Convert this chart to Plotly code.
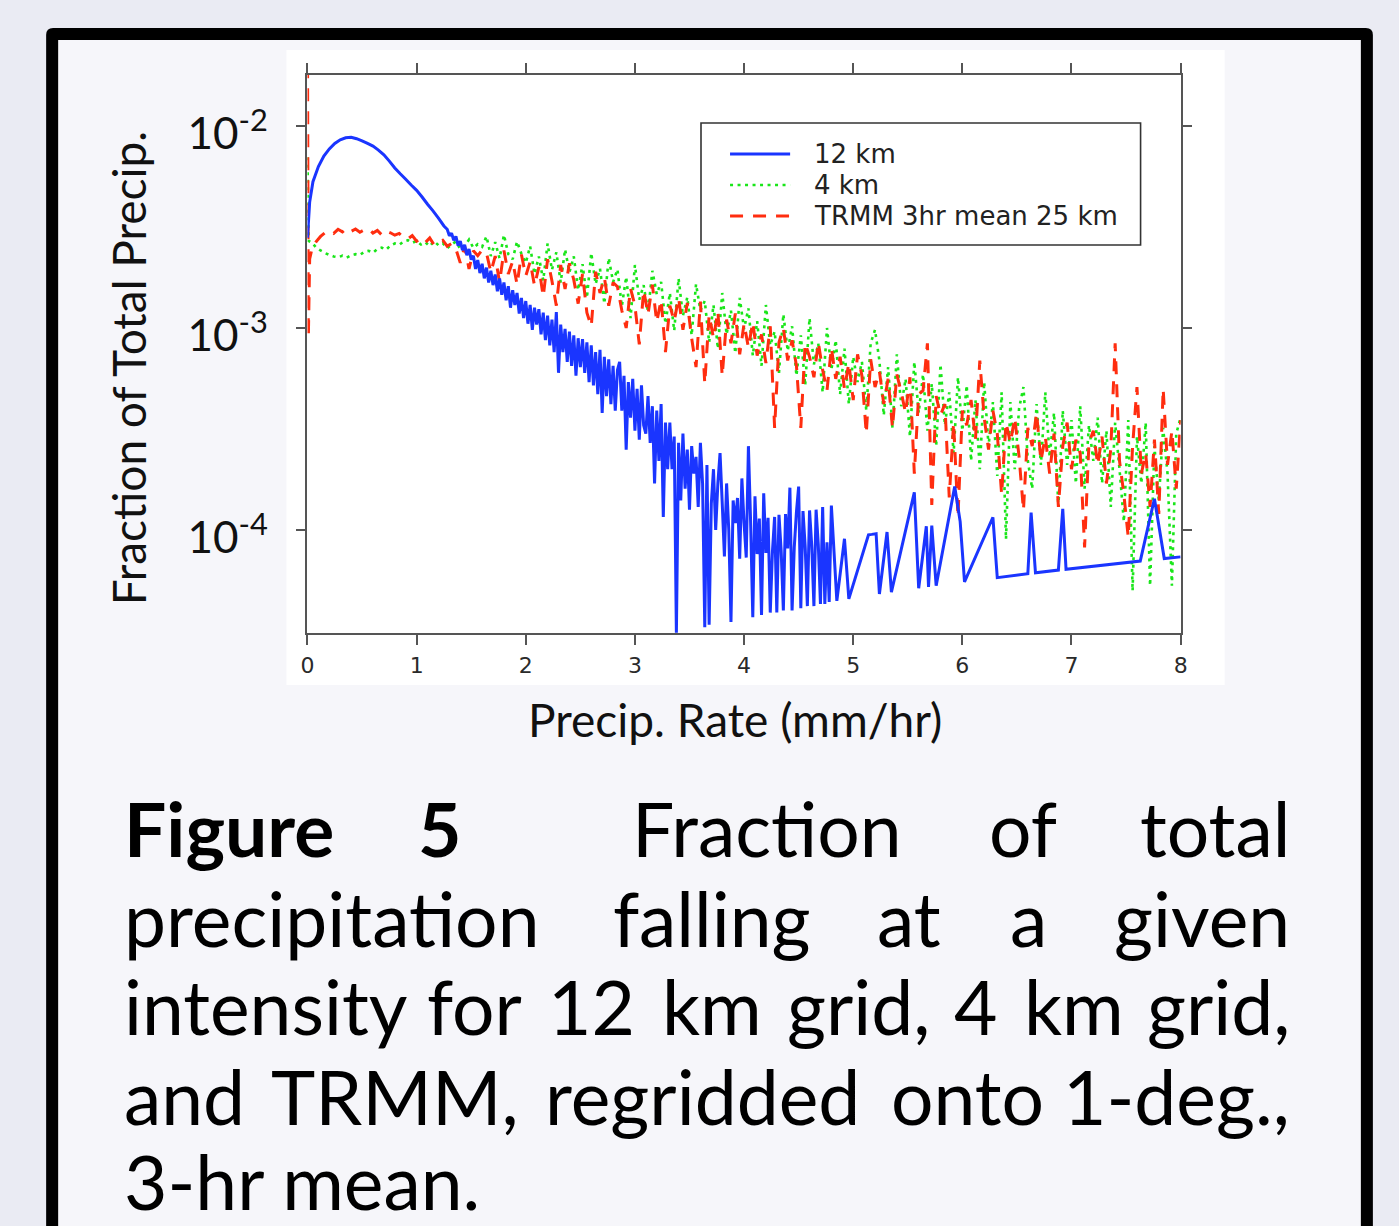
import numpy as np
import plotly.graph_objects as go

W, H = 1399, 1226
UNIT = 1e-4  # all fraction values below are given in units of 1e-4

# ---------------- data ----------------
# histogram bins (mm/hr) used for the 4 km and TRMM curves
rate_grid = np.round(np.arange(1, 201) * 0.04, 2)  # 0.04 .. 8.00

# 4 km model
head_4km_x = [0.0, 0.01]
head_4km_e4 = [70.0, 27.0]
frac_4km_e4 = [
    26.5, 25.0, 24.2, 23.5, 23.0, 22.6, 22.4, 22.8, 22.3, 22.9,
    23.2, 23.0, 23.8, 24.1, 23.6, 24.6, 25.0, 24.4, 25.6, 26.2,
    25.8, 26.8, 27.2, 26.4, 27.0, 25.9, 26.6, 25.4, 26.9, 25.7,
    26.3, 24.8, 25.9, 26.8, 24.6, 25.5, 27.4, 24.9, 26.0, 25.2,
    28.4, 22.7, 26.6, 22.1, 28.9, 23.2, 21.9, 26.8, 23.3, 21.0,
    25.4, 18.5, 22.6, 17.2, 26.2, 19.4, 23.7, 16.8, 24.5, 18.9,
    22.6, 15.4, 20.7, 14.1, 23.5, 16.5, 19.7, 13.2, 22.2, 16.9,
    19.5, 12.8, 17.9, 11.2, 20.5, 13.8, 16.3, 12.0, 19.2, 14.7,
    16.9, 10.5, 14.9, 9.7, 17.6, 11.5, 14.2, 9.2, 16.5, 12.2,
    13.6, 8.5, 13.0, 7.9, 14.9, 9.3, 12.2, 7.5, 14.1, 9.9,
    12.5, 7.3, 10.8, 6.5, 13.0, 8.2, 9.6, 6.0, 11.7, 7.7,
    10.2, 5.8, 9.2, 5.2, 11.2, 6.6, 8.4, 4.8, 10.0, 6.2,
    8.7, 4.7, 7.9, 4.2, 7.2, 5.4, 6.8, 3.9, 8.4, 9.8,
    6.9, 3.7, 6.4, 3.2, 7.4, 4.1, 5.6, 2.9, 6.8, 3.8,
    5.9, 3.1, 5.3, 2.6, 6.6, 3.3, 4.8, 2.4, 5.7, 3.1,
    5.2, 2.2, 4.4, 2.0, 5.4, 2.6, 4.3, 1.85, 4.8, 0.9,
    4.3, 2.0, 4.0, 5.1, 2.2, 1.6, 4.2, 2.1, 4.8, 2.3,
    3.8, 1.3, 3.9, 2.1, 3.5, 1.7, 4.1, 1.6, 3.3, 2.2,
    3.6, 1.7, 3.1, 1.3, 3.4, 2.0, 1.1, 3.5, 0.50, 2.9,
    1.7, 3.4, 0.53, 2.6, 1.4, 3.2, 1.9, 0.53, 3.0, 3.6,
]

# TRMM 3hr mean 25 km
head_trmm_x = [0.0, 0.008, 0.02]
head_trmm_e4 = [260.0, 9.0, 22.0]
frac_trmm_e4 = [
    24.5, 26.8, 28.4, 29.6, 30.2, 29.4, 30.8, 29.9, 31.2, 30.1,
    30.9, 29.8, 30.6, 31.0, 29.5, 30.4, 28.9, 30.2, 29.6, 28.8,
    29.4, 28.1, 27.6, 28.7, 26.9, 27.8, 26.5, 27.9, 25.8, 26.7,
    27.2, 25.4, 26.2, 24.6, 21.0, 25.3, 19.6, 24.1, 22.8, 24.3,
    23.5, 18.9, 22.7, 16.8, 24.2, 18.5, 21.4, 16.4, 23.1, 18.1,
    21.3, 16.2, 20.0, 14.3, 21.9, 17.1, 12.9, 20.5, 15.6, 20.9,
    17.3, 13.2, 18.5, 11.9, 10.2, 19.0, 14.9, 17.8, 12.9, 16.8,
    16.0, 12.2, 10.0, 15.7, 12.9, 8.3, 15.4, 11.7, 16.4, 10.7,
    13.8, 7.6, 12.9, 10.8, 14.1, 9.8, 13.3, 8.9, 6.4, 13.5,
    5.3, 11.6, 8.9, 12.1, 5.8, 11.0, 8.4, 11.8, 7.4, 10.5,
    8.0, 10.7, 7.3, 9.3, 6.7, 10.2, 3.2, 8.5, 10.0, 6.9,
    8.7, 6.5, 3.2, 8.4, 7.2, 5.7, 8.5, 6.2, 4.9, 8.0,
    5.6, 7.2, 5.0, 6.7, 4.4, 7.4, 5.8, 3.0, 7.0, 5.1,
    6.1, 4.2, 5.6, 3.2, 5.9, 4.8, 3.8, 5.7, 1.9, 4.7,
    4.9, 8.4, 1.33, 4.6, 3.7, 4.2, 1.45, 3.4, 1.16, 3.9,
    3.3, 4.4, 2.8, 6.9, 3.6, 2.5, 3.9, 3.0, 1.5, 3.4,
    2.7, 3.6, 2.3, 1.25, 3.2, 2.6, 3.8, 2.2, 2.9, 1.9,
    3.0, 1.3, 2.6, 3.4, 2.0, 2.8, 2.4, 0.82, 2.7, 3.1,
    2.1, 2.9, 1.7, 2.5, 8.4, 2.2, 1.5, 0.92, 2.6, 5.1,
    1.9, 2.4, 1.3, 2.8, 1.2, 5.0, 2.1, 3.1, 1.6, 3.5,
]

# 12 km model: smooth low-rate part
rate_12km_smooth = [0.0, 0.02, 0.05, 0.1, 0.15, 0.2, 0.25, 0.3, 0.35, 0.4,
                    0.45, 0.5, 0.55, 0.6, 0.65, 0.7, 0.75, 0.8, 0.85, 0.9,
                    0.95, 1.0, 1.05, 1.1, 1.15, 1.2, 1.25]
frac_12km_smooth_e4 = [28.0, 42.0, 53.0, 63.0, 71.0, 77.0, 82.0, 85.5, 87.5, 88.0,
                       86.5, 84.5, 82.0, 79.5, 76.0, 72.0, 67.0, 62.0, 58.0, 54.5,
                       51.0, 48.0, 44.5, 41.0, 38.0, 35.0, 32.0]
# 12 km model: noisy part, 0.02 mm/hr bins from 1.28 to 4.80
rate_12km_noisy = np.round(np.arange(64, 241) * 0.02, 2)
frac_12km_noisy_e4 = [
    30.8, 28.6, 29.5, 27.2, 28.4, 25.6, 26.9, 24.3, 25.8, 22.9, 24.6, 21.8,
    22.8, 19.6, 21.7, 18.7, 20.8, 17.6, 19.9, 16.8, 19.2, 16.3,
    18.4, 15.2, 17.6, 14.6, 16.8, 13.7, 16.1, 12.6, 15.4, 13.0,
    14.9, 11.8, 14.1, 11.2, 13.6, 10.5, 13.0, 9.8, 12.6, 10.4,
    12.4, 9.3, 11.9, 8.7, 11.5, 8.2, 11.0, 7.6, 12.0, 6.0,
    10.4, 7.6, 9.9, 6.8, 9.6, 6.5, 9.2, 5.8, 8.9, 6.4,
    8.8, 6.0, 8.5, 5.4, 8.2, 5.2, 7.6, 4.7, 7.8, 3.8,
    7.2, 4.6, 7.0, 4.2, 6.5, 3.9, 6.2, 6.8, 3.9, 5.8,
    2.5, 5.4, 3.6, 5.6, 3.1, 5.0, 2.8, 5.2, 3.3, 3.0,
    4.6, 2.7, 4.1, 1.7, 3.9, 2.2, 4.2, 1.16, 3.4, 2.0,
    3.4, 2.0, 2.9, 0.31, 2.7, 1.4, 3.0, 1.6, 2.5, 1.26,
    2.6, 1.9, 2.3, 1.3, 2.7, 1.7, 0.33, 2.1, 0.34, 1.35,
    2.0, 1.0, 1.7, 2.4, 1.36, 0.74, 1.7, 1.0, 0.35, 1.4,
    1.08, 1.44, 0.72, 1.8, 1.08, 0.73, 2.6, 1.1, 0.37, 1.47,
    0.76, 1.14, 0.38, 1.52, 0.77, 1.15, 0.39, 0.78, 1.16, 0.39,
    1.19, 0.79, 0.40, 1.2, 0.81, 1.62, 0.40, 0.82, 1.23, 1.64,
    0.41, 1.24, 0.83, 0.42, 1.25, 0.84, 0.42, 1.26, 0.85, 0.43,
    1.3, 0.43, 0.87, 0.44, 1.32,
]
# 12 km model: sparse high-rate tail (only non-empty bins)
rate_12km_tail = [4.85, 4.92, 4.96, 5.14, 5.17, 5.21, 5.24, 5.31, 5.35, 5.56,
                  5.60, 5.67, 5.69, 5.72, 5.76, 5.93, 5.98, 6.02, 6.28, 6.32,
                  6.60, 6.63, 6.67, 6.88, 6.92, 6.95, 7.63, 7.76, 7.85, 8.00]
frac_12km_tail_e4 = [0.446, 0.905, 0.456, 0.946, 0.951, 0.959, 0.482, 0.977, 0.492, 1.535,
                     0.515, 1.043, 0.523, 1.052, 0.530, 1.64, 1.10, 0.554, 1.156, 0.581,
                     0.607, 1.22, 0.614, 0.633, 1.273, 0.639, 0.702, 1.428, 0.722, 0.736]

series_names = ["12 km", "4 km", "TRMM 3hr mean 25 km"]
series_colors = ["#1a35ff", "#19e619", "#ff2d0f"]
series_dash = ["solid", "3px,4.5px", "13px,10px"]
series_width = [3.0, 2.6, 3.0]

x_tick_vals = [0, 1, 2, 3, 4, 5, 6, 7, 8]
y_tick_vals = [1e-4, 1e-3, 1e-2]
y_tick_text = ["10<sup>-4</sup>", "10<sup>-3</sup>", "10<sup>-2</sup>"]

x_title = "Precip. Rate (mm/hr)"
y_title = "Fraction of Total Precip."

caption_lines = [
    [("Figure", True), ("5", True), ("Fraction", False), ("of", False), ("total", False)],
    [("precipitation", False), ("falling", False), ("at", False), ("a", False), ("given", False)],
    [("intensity", False), ("for", False), ("12", False), ("km", False), ("grid,", False),
     ("4", False), ("km", False), ("grid,", False)],
    [("and", False), ("TRMM,", False), ("regridded", False), ("onto", False), ("1-deg.,", False)],
    [("3-hr mean.", False)],
]
# horizontal centres of the inner words of the justified caption lines (px)
caption_word_centres = [
    [None, 440, 767, 1023, None],
    [None, 712, 909, 1028, None],
    [None, 475, 592, 712, 858, 976, 1074, None],
    [None, 395, 702, 967, None],
    [None],
]
caption_line_mid = [828, 918, 1006, 1096, 1181]

# horizontal calibration of the page capture (page is captured slightly squeezed)
X_SCALE = 1399 / 1415
X_OFF = 8 * 1399 / 1415


# ---------------- helpers ----------------
def px(x):
    return ((x - X_OFF) / X_SCALE) / W


def py(y):
    return 1 - y / H


fig = go.Figure()

x4 = head_4km_x + list(rate_grid)
y4 = np.array(head_4km_e4 + frac_4km_e4) * UNIT
xt = head_trmm_x + list(rate_grid)
yt = np.array(head_trmm_e4 + frac_trmm_e4) * UNIT
x12 = rate_12km_smooth + list(rate_12km_noisy) + rate_12km_tail
y12 = np.array(frac_12km_smooth_e4 + frac_12km_noisy_e4 + frac_12km_tail_e4) * UNIT

fig.add_trace(go.Scatter(x=x4, y=y4, mode="lines", name=series_names[1], showlegend=False,
                         line=dict(color=series_colors[1], width=series_width[1],
                                   dash=series_dash[1], simplify=False)))
fig.add_trace(go.Scatter(x=xt, y=yt, mode="lines", name=series_names[2], showlegend=False,
                         line=dict(color=series_colors[2], width=series_width[2],
                                   dash=series_dash[2], simplify=False)))
fig.add_trace(go.Scatter(x=x12, y=y12, mode="lines", name=series_names[0], showlegend=False,
                         line=dict(color=series_colors[0], width=series_width[0],
                                   dash=series_dash[0], simplify=False)))

axis_common = dict(
    showline=True, linecolor="#555555", linewidth=1.6, mirror="allticks",
    ticks="outside", ticklen=10, tickwidth=1.6, tickcolor="#555555",
    showgrid=False, zeroline=False, layer="below traces",
)
fig.update_xaxes(
    domain=[px(308), px(1180)], range=[0, 8], tickvals=x_tick_vals,
    tickfont=dict(family="DejaVu Sans", size=22, color="#2a2a2a"),
    ticklabelstandoff=2, **axis_common,
)
fig.update_yaxes(
    domain=[py(633), py(75)], type="log", range=[-4.51, -1.7475],
    tickvals=y_tick_vals, ticktext=y_tick_text,
    tickfont=dict(family="Lato", size=44, color="#111111"),
    ticklabelstandoff=19, ticklabelshift=8, **axis_common,
)

shapes = []
# page background pieces: black frame, light panel, white figure image
shapes.append(dict(type="path", xref="paper", yref="paper", layer="below",
                   path=(f"M {px(47)},{py(1240)} L {px(47)},{py(35)} Q {px(47)},{py(28)} {px(54)},{py(28)} "
                         f"L {px(1365)},{py(28)} Q {px(1372)},{py(28)} {px(1372)},{py(35)} L {px(1372)},{py(1240)} Z"),
                   fillcolor="#000000", line=dict(width=0)))
shapes.append(dict(type="rect", xref="paper", yref="paper", layer="below",
                   x0=px(59), x1=px(1360), y0=py(1240), y1=py(40),
                   fillcolor="#F6F6FA", line=dict(width=0)))
shapes.append(dict(type="rect", xref="paper", yref="paper", layer="below",
                   x0=px(287), x1=px(1224), y0=py(685), y1=py(50),
                   fillcolor="#FFFFFF", line=dict(width=0)))
# legend box and samples
shapes.append(dict(type="rect", xref="paper", yref="paper", layer="above",
                   x0=px(701), x1=px(1140), y0=py(245), y1=py(123),
                   fillcolor="#FFFFFF", line=dict(color="#333333", width=1.6)))
legend_rows = [154, 185, 216]
for i, yrow in enumerate(legend_rows):
    shapes.append(dict(type="line", xref="paper", yref="paper", layer="above",
                       x0=px(730), x1=px(790), y0=py(yrow), y1=py(yrow),
                       line=dict(color=series_colors[i], width=series_width[i], dash=series_dash[i])))

annotations = []
for i, yrow in enumerate(legend_rows):
    annotations.append(dict(text=series_names[i], x=px(812), y=py(yrow), xref="paper", yref="paper",
                            xanchor="left", yanchor="middle", showarrow=False,
                            font=dict(family="DejaVu Sans", size=26, color="#222222")))
# axis titles
annotations.append(dict(text=x_title, x=px(735), y=py(719), xref="paper", yref="paper",
                        xanchor="center", yanchor="middle", showarrow=False,
                        font=dict(family="Lato", size=46, color="#111111")))
annotations.append(dict(text=y_title, x=px(129), y=py(368), xref="paper", yref="paper",
                        xanchor="center", yanchor="middle", showarrow=False, textangle=-90,
                        font=dict(family="Lato", size=46, color="#111111")))
# justified caption, word by word
for words, centres, ymid in zip(caption_lines, caption_word_centres, caption_line_mid):
    n = len(words)
    for j, ((word, bold), cx) in enumerate(zip(words, centres)):
        if j == 0:
            xa, xpos = "left", 123
        elif j == n - 1:
            xa, xpos = "right", 1291
        else:
            xa, xpos = "center", cx
        annotations.append(dict(
            text=f"<b>{word}</b>" if bold else word,
            x=px(xpos), y=py(ymid), xref="paper", yref="paper",
            xanchor=xa, yanchor="middle", showarrow=False,
            font=dict(family="Lato", size=75, color="#000000")))

fig.update_layout(
    width=W, height=H, margin=dict(l=0, r=0, t=0, b=0),
    paper_bgcolor="#EAEBF3", plot_bgcolor="#FFFFFF",
    showlegend=False, shapes=shapes, annotations=annotations,
)

fig.write_html("out.html", config={"displayModeBar": False})
